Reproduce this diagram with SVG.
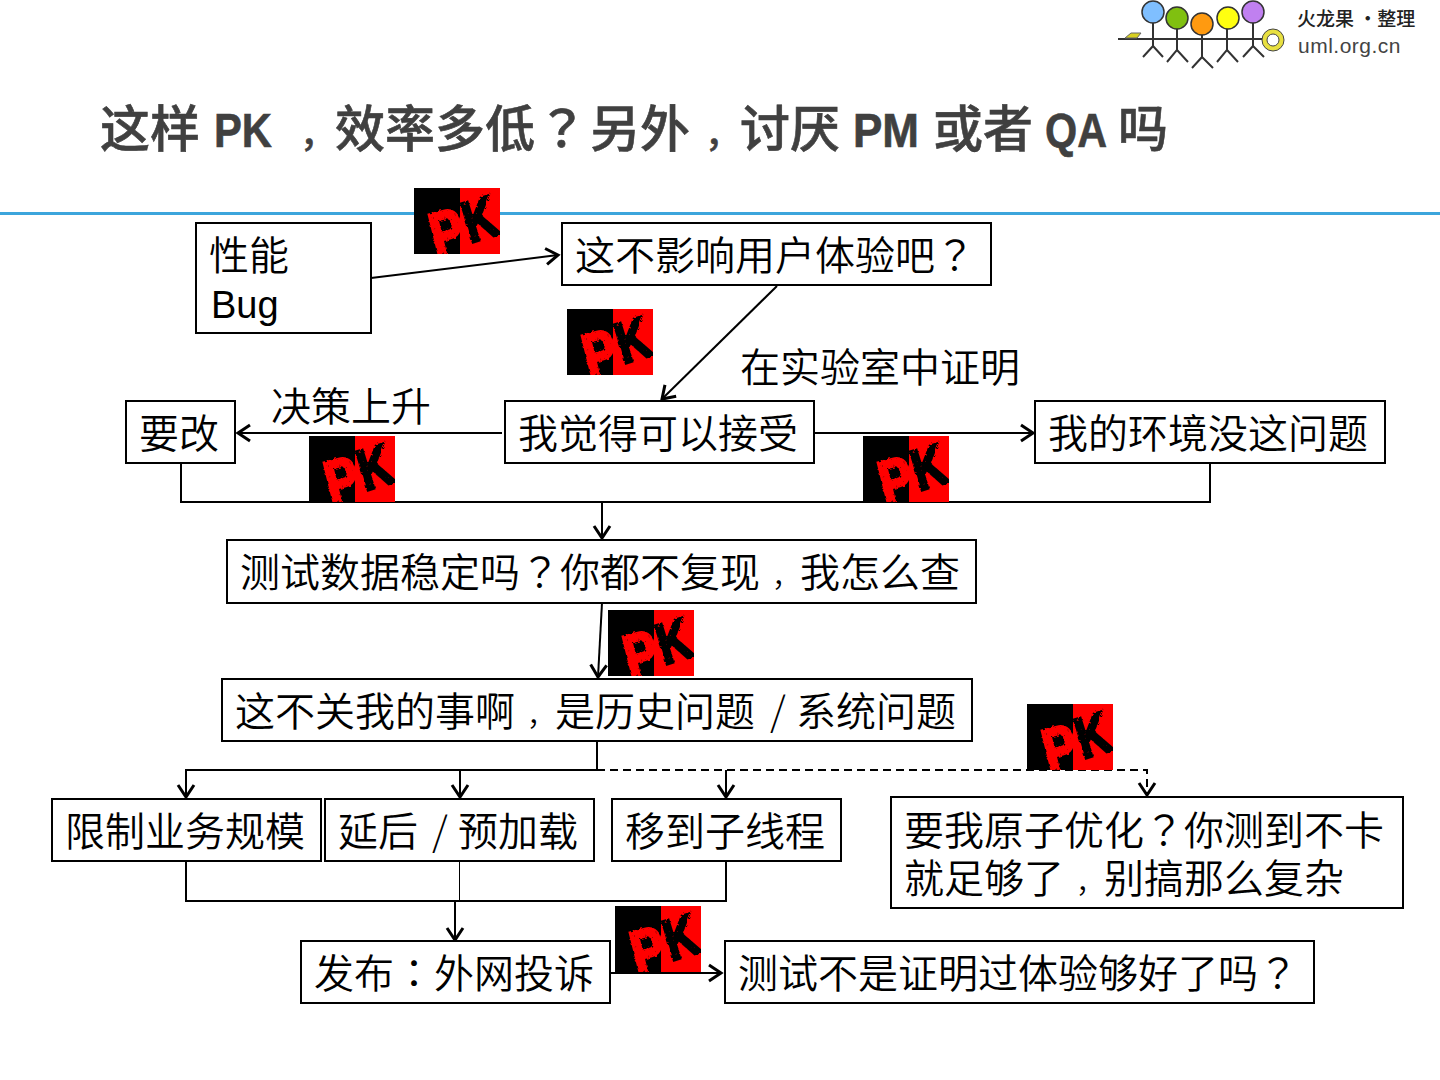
<svg xmlns="http://www.w3.org/2000/svg" width="1440" height="1080" viewBox="0 0 1440 1080">
<style>
text{font-family:"Noto Sans CJK SC","Liberation Sans",sans-serif;}
.box{fill:#fff;stroke:#000;stroke-width:2}
.t{font-size:40px;fill:#000;font-weight:350}
.p{font-family:"Noto Sans CJK TC",sans-serif}
.la{font-family:"Liberation Sans",sans-serif;font-weight:400}
.cm{font-size:28px}
.hc{font-size:35px}
.sl{font-weight:300}
.hl{font-family:"Liberation Sans",sans-serif;font-weight:700;font-size:48px}
.l{fill:none;stroke:#000;stroke-width:2}
.thin{stroke-width:1}
.a{marker-end:url(#v)}
.d{stroke-dasharray:8 5}
.s{fill:none;stroke:#333;stroke-width:2}
.c{stroke:#333;stroke-width:1.5}
.pk{font-family:"Liberation Sans",sans-serif;font-weight:bold;stroke-width:3}
</style>
<defs>
<marker id="v" markerUnits="userSpaceOnUse" markerWidth="20" markerHeight="20" refX="13" refY="9" orient="auto" overflow="visible">
<path d="M1 1 L13 9 L1 17" fill="none" stroke="#000" stroke-width="3"/>
</marker>
<filter id="rough" x="-10%" y="-10%" width="120%" height="120%">
<feTurbulence type="fractalNoise" baseFrequency="0.28" numOctaves="2" seed="4" result="n"/>
<feDisplacementMap in="SourceGraphic" in2="n" scale="4" result="d"/>
<feColorMatrix in="n" type="matrix" values="0 0 0 0 0 0 0 0 0 0 0 0 0 0 0 5 0 0 0 -3.5" result="h"/>
<feComposite in="d" in2="h" operator="out"/>
</filter>
<clipPath id="pkclip"><rect width="86" height="66"/></clipPath>
<g id="pkimg">
<rect width="46" height="66" fill="#000"/>
<rect x="46" width="40" height="66" fill="#f00"/>
<g clip-path="url(#pkclip)">
<g filter="url(#rough)">
<text class="pk" font-size="62" fill="#f00" stroke="#f00" transform="translate(22 69) rotate(-14) scale(.8 1)">P</text>
<text class="pk" font-size="58" fill="#000" stroke="#000" transform="translate(56 55) rotate(-17) scale(.78 1)">K</text>
</g>
</g>
</g>
</defs>
<rect width="1440" height="1080" fill="#fff"/>
<rect id="rule" x="0" y="212" width="1440" height="3" fill="#3ca5dc"/>
<g id="logo">
<path class="s" d="M1118 39H1262"/>
<path d="M1125 38L1131 33H1141L1137 38Z" fill="#d8d020" stroke="#666"/>
<path class="s" d="M1153 20V46L1143 57M1153 46L1163 57M1177 26V50L1167 62M1177 50L1188 62M1202 32V57L1192 68M1202 57L1213 68M1227 26V50L1217 62M1227 50L1238 62M1253 20V46L1243 57M1253 46L1264 57"/>
<circle class="c" cx="1153" cy="12" r="11" fill="#7fbfff"/>
<circle class="c" cx="1177" cy="18" r="11" fill="#80c010"/>
<circle class="c" cx="1202" cy="24" r="11" fill="#ff9a10"/>
<circle class="c" cx="1228" cy="18" r="11" fill="#ffff10"/>
<circle class="c" cx="1253" cy="12" r="11" fill="#c080f0"/>
<circle cx="1273" cy="40" r="11" fill="#e8e040" stroke="#444" stroke-width="1"/>
<circle cx="1273" cy="40" r="6" fill="#fff" stroke="#444" stroke-width="1"/>
<text x="1297" y="26" font-size="19" font-weight="500" fill="#222">火龙果 ·整理</text>
<text x="1298" y="53" font-size="21" fill="#444" letter-spacing=".5" style="font-family:'Liberation Sans',sans-serif">uml.org.cn</text>
</g>
<text id="title" y="147" font-size="50" font-weight="500" fill="#404040" stroke="#404040" stroke-width=".6"><tspan x="100">这样</tspan><tspan class="hl" x="214" textLength="58" lengthAdjust="spacingAndGlyphs">PK</tspan><tspan class="hc" x="300">，</tspan><tspan x="335">效率多低</tspan><tspan class="p" x="537">？</tspan><tspan x="590">另外</tspan><tspan class="hc" x="705">，</tspan><tspan x="740">讨厌</tspan><tspan class="hl" x="853" textLength="66" lengthAdjust="spacingAndGlyphs">PM</tspan><tspan x="933">或者</tspan><tspan class="hl" x="1045" textLength="62" lengthAdjust="spacingAndGlyphs">QA</tspan><tspan x="1118">吗</tspan></text>
<g id="connectors">
<path class="l a" d="M371 278L558 255"/>
<path class="l a" d="M777 286L662 399"/>
<path class="l a" d="M502 433H238"/>
<path class="l a" d="M815 433H1033"/>
<path class="l" d="M181 463V502H1210V463"/>
<path class="l a" d="M602 502V538"/>
<path class="l a" d="M602 603L598 677"/>
<path class="l" d="M597 741V770"/>
<path class="l a" d="M597 770H186V797"/>
<path class="l a" d="M460 770V797"/>
<path class="l a" d="M726 770V797"/>
<path class="l d a" d="M597 770H1147V795"/>
<path class="l" d="M186 861V901H726V861"/>
<path class="l thin" d="M459.5 861V901"/>
<path class="l a" d="M455 901V940"/>
<path class="l a" d="M610 973H721"/>
</g>
<g id="n-xn"><rect class="box" x="196" y="223" width="175" height="110"/><text class="t" x="209" y="270">性能</text><text class="t la" x="211" y="318" style="font-size:38px">Bug</text></g>
<g id="n-ty"><rect class="box" x="562" y="223" width="429" height="62"/><text class="t" x="575" y="270">这不影响用户体验吧<tspan class="p">？</tspan></text></g>
<g id="n-js"><rect class="box" x="505" y="401" width="309" height="62"/><text class="t" x="518" y="448">我觉得可以接受</text></g>
<g id="n-yg"><rect class="box" x="126" y="401" width="109" height="62"/><text class="t" x="139" y="448">要改</text></g>
<g id="n-hj"><rect class="box" x="1035" y="401" width="350" height="62"/><text class="t" x="1048" y="448">我的环境没这问题</text></g>
<g id="n-cs"><rect class="box" x="227" y="540" width="749" height="63"/><text class="t" x="240" y="587">测试数据稳定吗<tspan class="p">？</tspan>你都不复现<tspan class="cm" dx="12">，</tspan>我怎么查</text></g>
<g id="n-gx"><rect class="box" x="222" y="679" width="750" height="62"/><text class="t" y="726"><tspan x="235">这不关我的事啊</tspan><tspan class="cm" dx="12">，</tspan>是历史问题<tspan class="sl" x="770">/</tspan><tspan x="796">系统问题</tspan></text></g>
<g id="n-xz"><rect class="box" x="52" y="799" width="269" height="62"/><text class="t" x="65" y="846">限制业务规模</text></g>
<g id="n-yh"><rect class="box" x="325" y="799" width="269" height="62"/><text class="t" y="846"><tspan x="338">延后</tspan><tspan class="sl" x="432">/</tspan><tspan x="458">预加载</tspan></text></g>
<g id="n-yd"><rect class="box" x="612" y="799" width="229" height="62"/><text class="t" x="625" y="846">移到子线程</text></g>
<g id="n-yz"><rect class="box" x="891" y="797" width="512" height="111"/><text class="t" x="904" y="845">要我原子优化<tspan class="p">？</tspan>你测到不卡</text><text class="t" x="904" y="893">就足够了<tspan class="cm" dx="12">，</tspan>别搞那么复杂</text></g>
<g id="n-fb"><rect class="box" x="301" y="941" width="309" height="62"/><text class="t" x="314" y="988">发布<tspan class="p">：</tspan>外网投诉</text></g>
<g id="n-tg"><rect class="box" x="725" y="941" width="589" height="62"/><text class="t" x="738" y="988">测试不是证明过体验够好了吗<tspan class="p">？</tspan></text></g>
<g id="l-1"><text class="t" x="740" y="382">在实验室中证明</text></g>
<g id="l-2"><text class="t" x="271" y="421">决策上升</text></g>
<g id="pk1"><use href="#pkimg" x="414" y="188"/></g>
<g id="pk2"><use href="#pkimg" x="567" y="309"/></g>
<g id="pk3"><use href="#pkimg" x="309" y="436"/></g>
<g id="pk4"><use href="#pkimg" x="863" y="436"/></g>
<g id="pk5"><use href="#pkimg" x="608" y="610"/></g>
<g id="pk6"><use href="#pkimg" x="1027" y="704"/></g>
<g id="pk7"><use href="#pkimg" x="615" y="906"/></g>
</svg>
